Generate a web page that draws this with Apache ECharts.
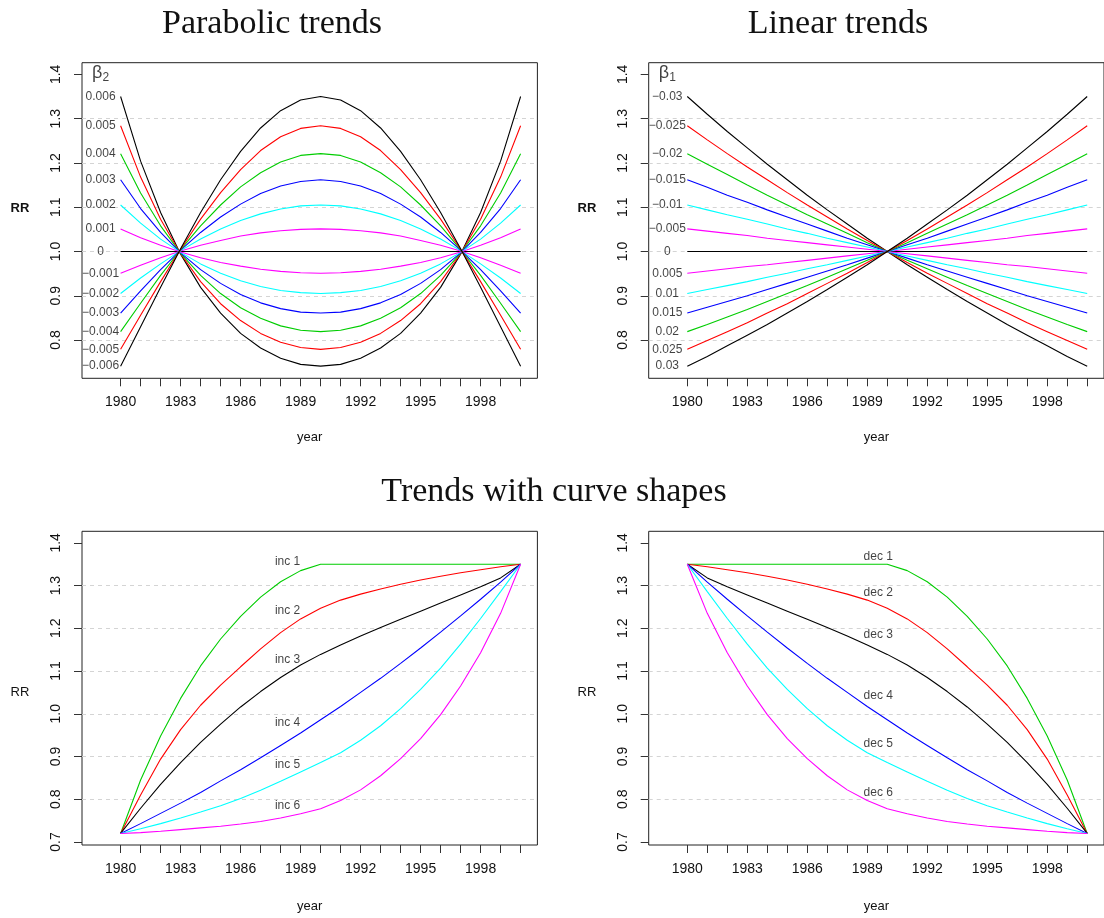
<!DOCTYPE html>
<html>
<head>
<meta charset="utf-8">
<title>RR trends</title>
<script src="https://cdn.jsdelivr.net/npm/echarts@6/dist/echarts.min.js"></script>
<style>
  html, body { margin: 0; padding: 0; background: #fff; }
  #main { width: 1104px; height: 918px; }
</style>
</head>
<body>
<div id="main"></div>
<script>
// x values of every curve
const years = [1980, 1981, 1982, 1983, 1984, 1985, 1986, 1987, 1988, 1989, 1990,
  1991, 1992, 1993, 1994, 1995, 1996, 1997, 1998, 1999, 2000]
const tickYears = years
const labelYears = [1980, 1983, 1986, 1989, 1992, 1995, 1998]
const topTicksRR = [0.8, 0.9, 1.0, 1.1, 1.2, 1.3, 1.4]
const bottomTicksRR = [0.7, 0.8, 0.9, 1.0, 1.1, 1.2, 1.3, 1.4]
// dashed grey reference lines
const gridRR = [0.8, 0.9, 1.0, 1.1, 1.2, 1.3]

// Parabolic trends, one array per beta2 (top to bottom at 1980)
const beta2 = [0.006, 0.005, 0.004, 0.003, 0.002, 0.001, 0, -0.001, -0.002, -0.003, -0.004, -0.005, -0.006]
const par006 = [1.350, 1.204, 1.088, 0.994, 0.919, 0.861, 0.815, 0.782, 0.759, 0.745, 0.741, 0.745, 0.759, 0.782, 0.815, 0.861, 0.919, 0.994, 1.088, 1.204, 1.350]
const par005 = [1.284, 1.168, 1.073, 0.995, 0.932, 0.882, 0.844, 0.815, 0.795, 0.783, 0.779, 0.783, 0.795, 0.815, 0.844, 0.882, 0.932, 0.995, 1.073, 1.168, 1.284]
const par004 = [1.221, 1.132, 1.058, 0.996, 0.946, 0.905, 0.873, 0.849, 0.832, 0.822, 0.819, 0.822, 0.832, 0.849, 0.873, 0.905, 0.946, 0.996, 1.058, 1.132, 1.221]
const par003 = [1.162, 1.097, 1.043, 0.997, 0.959, 0.928, 0.903, 0.884, 0.871, 0.863, 0.861, 0.863, 0.871, 0.884, 0.903, 0.928, 0.959, 0.997, 1.043, 1.097, 1.162]
const par002 = [1.105, 1.064, 1.028, 0.998, 0.972, 0.951, 0.934, 0.921, 0.912, 0.907, 0.905, 0.907, 0.912, 0.921, 0.934, 0.951, 0.972, 0.998, 1.028, 1.064, 1.105]
const par001 = [1.051, 1.031, 1.014, 0.999, 0.986, 0.975, 0.967, 0.960, 0.955, 0.952, 0.951, 0.952, 0.955, 0.960, 0.967, 0.975, 0.986, 0.999, 1.014, 1.031, 1.051]
const par000 = [1, 1, 1, 1, 1, 1, 1, 1, 1, 1, 1, 1, 1, 1, 1, 1, 1, 1, 1, 1, 1]
const parM001 = [0.951, 0.969, 0.986, 1.001, 1.014, 1.025, 1.035, 1.042, 1.047, 1.050, 1.051, 1.050, 1.047, 1.042, 1.035, 1.025, 1.014, 1.001, 0.986, 0.969, 0.951]
const parM002 = [0.905, 0.940, 0.972, 1.002, 1.028, 1.051, 1.070, 1.085, 1.096, 1.103, 1.105, 1.103, 1.096, 1.085, 1.070, 1.051, 1.028, 1.002, 0.972, 0.940, 0.905]
const parM003 = [0.861, 0.911, 0.959, 1.003, 1.043, 1.078, 1.107, 1.131, 1.148, 1.158, 1.162, 1.158, 1.148, 1.131, 1.107, 1.078, 1.043, 1.003, 0.959, 0.911, 0.861]
const parM004 = [0.819, 0.883, 0.946, 1.004, 1.058, 1.105, 1.146, 1.178, 1.202, 1.217, 1.221, 1.217, 1.202, 1.178, 1.146, 1.105, 1.058, 1.004, 0.946, 0.883, 0.819]
const parM005 = [0.779, 0.856, 0.932, 1.005, 1.073, 1.133, 1.185, 1.228, 1.259, 1.278, 1.284, 1.278, 1.259, 1.228, 1.185, 1.133, 1.073, 1.005, 0.932, 0.856, 0.779]
const parM006 = [0.741, 0.830, 0.919, 1.006, 1.088, 1.162, 1.226, 1.279, 1.318, 1.342, 1.350, 1.342, 1.318, 1.279, 1.226, 1.162, 1.088, 1.006, 0.919, 0.830, 0.741]

// Linear trends, one array per beta1
const beta1 = [-0.03, -0.025, -0.02, -0.015, -0.01, -0.005, 0, 0.005, 0.01, 0.015, 0.02, 0.025, 0.03]
const linM030 = [1.350, 1.310, 1.271, 1.234, 1.197, 1.162, 1.127, 1.094, 1.062, 1.030, 1.000, 0.970, 0.942, 0.914, 0.887, 0.861, 0.835, 0.811, 0.787, 0.763, 0.741]
const linM025 = [1.284, 1.252, 1.221, 1.191, 1.162, 1.133, 1.105, 1.078, 1.051, 1.025, 1.000, 0.975, 0.951, 0.928, 0.905, 0.882, 0.861, 0.839, 0.819, 0.799, 0.779]
const linM020 = [1.221, 1.197, 1.174, 1.150, 1.127, 1.105, 1.083, 1.062, 1.041, 1.020, 1.000, 0.980, 0.961, 0.942, 0.923, 0.905, 0.887, 0.869, 0.852, 0.835, 0.819]
const linM015 = [1.162, 1.145, 1.127, 1.111, 1.094, 1.078, 1.062, 1.046, 1.030, 1.015, 1.000, 0.985, 0.970, 0.956, 0.942, 0.928, 0.914, 0.900, 0.887, 0.874, 0.861]
const linM010 = [1.105, 1.094, 1.083, 1.073, 1.062, 1.051, 1.041, 1.030, 1.020, 1.010, 1.000, 0.990, 0.980, 0.970, 0.961, 0.951, 0.942, 0.932, 0.923, 0.914, 0.905]
const linM005 = [1.051, 1.046, 1.041, 1.036, 1.030, 1.025, 1.020, 1.015, 1.010, 1.005, 1.000, 0.995, 0.990, 0.985, 0.980, 0.975, 0.970, 0.966, 0.961, 0.956, 0.951]
const lin000 = [1, 1, 1, 1, 1, 1, 1, 1, 1, 1, 1, 1, 1, 1, 1, 1, 1, 1, 1, 1, 1]
const lin005 = [0.951, 0.956, 0.961, 0.966, 0.970, 0.975, 0.980, 0.985, 0.990, 0.995, 1.000, 1.005, 1.010, 1.015, 1.020, 1.025, 1.030, 1.036, 1.041, 1.046, 1.051]
const lin010 = [0.905, 0.914, 0.923, 0.932, 0.942, 0.951, 0.961, 0.970, 0.980, 0.990, 1.000, 1.010, 1.020, 1.030, 1.041, 1.051, 1.062, 1.073, 1.083, 1.094, 1.105]
const lin015 = [0.861, 0.874, 0.887, 0.900, 0.914, 0.928, 0.942, 0.956, 0.970, 0.985, 1.000, 1.015, 1.030, 1.046, 1.062, 1.078, 1.094, 1.111, 1.127, 1.145, 1.162]
const lin020 = [0.819, 0.835, 0.852, 0.869, 0.887, 0.905, 0.923, 0.942, 0.961, 0.980, 1.000, 1.020, 1.041, 1.062, 1.083, 1.105, 1.127, 1.150, 1.174, 1.197, 1.221]
const lin025 = [0.779, 0.799, 0.819, 0.839, 0.861, 0.882, 0.905, 0.928, 0.951, 0.975, 1.000, 1.025, 1.051, 1.078, 1.105, 1.133, 1.162, 1.191, 1.221, 1.252, 1.284]
const lin030 = [0.741, 0.763, 0.787, 0.811, 0.835, 0.861, 0.887, 0.914, 0.942, 0.970, 1.000, 1.030, 1.062, 1.094, 1.127, 1.162, 1.197, 1.234, 1.271, 1.310, 1.350]

// colours of the 13 beta curves, top to bottom
const betaColors = ['#000000', '#FF0000', '#00CD00', '#0000FF', '#00FFFF', '#FF00FF', '#000000',
  '#FF00FF', '#00FFFF', '#0000FF', '#00CD00', '#FF0000', '#000000']

// Trends with curve shapes
const inc1 = [0.720, 0.845, 0.948, 1.036, 1.112, 1.175, 1.228, 1.273, 1.309, 1.335, 1.350, 1.350, 1.350, 1.350, 1.350, 1.350, 1.350, 1.350, 1.350, 1.350, 1.350]
const inc2 = [0.720, 0.810, 0.894, 0.963, 1.020, 1.067, 1.110, 1.152, 1.190, 1.222, 1.247, 1.266, 1.280, 1.292, 1.303, 1.313, 1.322, 1.330, 1.337, 1.344, 1.350]
const inc3 = [0.720, 0.779, 0.835, 0.886, 0.933, 0.976, 1.016, 1.052, 1.085, 1.114, 1.139, 1.161, 1.182, 1.202, 1.221, 1.240, 1.259, 1.278, 1.297, 1.318, 1.350]
const inc4 = [0.720, 0.743, 0.767, 0.791, 0.816, 0.843, 0.869, 0.897, 0.926, 0.955, 0.986, 1.017, 1.050, 1.083, 1.118, 1.154, 1.191, 1.229, 1.268, 1.308, 1.350]
const inc5 = [0.720, 0.731, 0.743, 0.756, 0.770, 0.785, 0.802, 0.821, 0.842, 0.864, 0.886, 0.909, 0.938, 0.972, 1.012, 1.057, 1.107, 1.163, 1.223, 1.286, 1.350]
const inc6 = [0.720, 0.722, 0.725, 0.729, 0.733, 0.737, 0.742, 0.748, 0.756, 0.766, 0.778, 0.797, 0.822, 0.855, 0.895, 0.942, 0.998, 1.065, 1.143, 1.235, 1.350]
const dec1 = [1.350, 1.350, 1.350, 1.350, 1.350, 1.350, 1.350, 1.350, 1.350, 1.350, 1.350, 1.335, 1.309, 1.273, 1.228, 1.175, 1.112, 1.036, 0.948, 0.845, 0.720]
const dec2 = [1.350, 1.344, 1.337, 1.330, 1.322, 1.313, 1.303, 1.292, 1.280, 1.266, 1.247, 1.222, 1.190, 1.152, 1.110, 1.067, 1.020, 0.963, 0.894, 0.810, 0.720]
const dec3 = [1.350, 1.318, 1.297, 1.278, 1.259, 1.240, 1.221, 1.202, 1.182, 1.161, 1.139, 1.114, 1.085, 1.052, 1.016, 0.976, 0.933, 0.886, 0.835, 0.779, 0.720]
const dec4 = [1.350, 1.308, 1.268, 1.229, 1.191, 1.154, 1.118, 1.083, 1.050, 1.017, 0.986, 0.955, 0.926, 0.897, 0.869, 0.843, 0.816, 0.791, 0.767, 0.743, 0.720]
const dec5 = [1.350, 1.286, 1.223, 1.163, 1.107, 1.057, 1.012, 0.972, 0.938, 0.909, 0.886, 0.864, 0.842, 0.821, 0.802, 0.785, 0.770, 0.756, 0.743, 0.731, 0.720]
const dec6 = [1.350, 1.235, 1.143, 1.065, 0.998, 0.942, 0.895, 0.855, 0.822, 0.797, 0.778, 0.766, 0.756, 0.748, 0.742, 0.737, 0.733, 0.729, 0.725, 0.722, 0.720]
const shapeColors = ['#00CD00', '#FF0000', '#000000', '#0000FF', '#00FFFF', '#FF00FF']
const incNames = ['inc 1', 'inc 2', 'inc 3', 'inc 4', 'inc 5', 'inc 6']
const decNames = ['dec 1', 'dec 2', 'dec 3', 'dec 4', 'dec 5', 'dec 6']
// where the curve names are written (year, RR)
const incLabelYear = 1988.35
const incLabelRR = [1.356, 1.242, 1.127, 0.980, 0.880, 0.784]
const decLabelYear = 1989.55
const decLabelRR = [1.368, 1.284, 1.186, 1.043, 0.931, 0.815]
const betaLabelYear = 1979

const parCurves = [par006, par005, par004, par003, par002, par001, par000, parM001, parM002, parM003, parM004, parM005, parM006]
const linCurves = [linM030, linM025, linM020, linM015, linM010, linM005, lin000, lin005, lin010, lin015, lin020, lin025, lin030]
const incCurves = [inc1, inc2, inc3, inc4, inc5, inc6]
const decCurves = [dec1, dec2, dec3, dec4, dec5, dec6]

const SANS = 'Liberation Sans, Arial, sans-serif'
const SERIF = 'Liberation Serif, Times New Roman, serif'
const INK = '#111111'

function fmtBeta(b) {
  return (b < 0 ? '\u2212' : '') + Math.abs(b)
}

function curveSeries(idx, values, color) {
  return {
    type: 'line',
    xAxisIndex: idx,
    yAxisIndex: idx,
    data: values.map((v, i) => [years[i], v]),
    symbol: 'none',
    showSymbol: false,
    lineStyle: { color: color, width: 1.1 },
    itemStyle: { color: color },
    silent: true,
    z: 6,
  }
}

// dashed grid lines, kept under the curves
function gridLineSeries(idx) {
  return {
    type: 'line',
    xAxisIndex: idx,
    yAxisIndex: idx,
    data: [],
    z: 1,
    silent: true,
    markLine: {
      z: 1,
      symbol: 'none',
      silent: true,
      label: { show: false },
      lineStyle: { type: [4, 4], color: '#d4d4d4', width: 1 },
      data: gridRR.map(v => ({ yAxis: v })),
    },
  }
}

// text placed at data coordinates, centred on the point
function textSeries(idx, points, extra) {
  return {
    type: 'scatter',
    xAxisIndex: idx,
    yAxisIndex: idx,
    symbolSize: 1,
    z: 7,
    silent: true,
    itemStyle: { color: 'rgba(0,0,0,0)' },
    label: Object.assign({
      show: true,
      position: 'inside',
      color: INK,
      fontSize: 12,
      fontFamily: SANS,
      formatter: p => p.data.text,
    }, extra || {}),
    data: points,
  }
}

function betaSymbolSeries(idx, sub) {
  return textSeries(idx, [{ value: [betaLabelYear, 1.402], text: '{b|\u03b2}{s|' + sub + '}' }], {
    rich: {
      b: { fontSize: 18, fontFamily: SANS, color: INK, height: 20 },
      s: { fontSize: 12, fontFamily: SANS, color: INK, verticalAlign: 'bottom', lineHeight: 12 },
    },
  })
}

const gridBoxes = [
  { left: 82, top: 62.7, width: 455.4, height: 315.6 },
  { left: 648.7, top: 62.7, width: 455.4, height: 315.6 },
  { left: 82, top: 531.3, width: 455.4, height: 313.7 },
  { left: 648.7, top: 531.3, width: 455.4, height: 313.7 },
]

function xAxisFor(idx, gap) {
  return {
    type: 'value',
    gridIndex: idx,
    min: 1978.07,
    max: 2000.84,
    name: 'year',
    nameLocation: 'middle',
    nameGap: gap,
    nameTextStyle: { fontSize: 13, fontFamily: SANS, color: INK },
    axisLine: { show: false, onZero: false },
    axisTick: { show: true, inside: false, length: 8, customValues: tickYears, lineStyle: { color: '#333', width: 1 } },
    axisLabel: {
      customValues: labelYears,
      margin: 17,
      fontSize: 14,
      fontFamily: SANS,
      color: INK,
      formatter: v => String(v),
    },
    splitLine: { show: false },
  }
}

function yAxisFor(idx, min, max, ticks) {
  return {
    type: 'value',
    gridIndex: idx,
    min: min,
    max: max,
    axisLine: { show: false, onZero: false },
    axisTick: { show: true, inside: false, length: 8, customValues: ticks, lineStyle: { color: '#333', width: 1 } },
    axisLabel: {
      customValues: ticks,
      rotate: 90,
      margin: 19,
      fontSize: 14,
      fontFamily: SANS,
      color: INK,
      formatter: v => v.toFixed(1),
    },
    splitLine: { show: false },
  }
}

let series = []
for (let g = 0; g < 4; g++) series.push(gridLineSeries(g))
parCurves.forEach((c, i) => series.push(curveSeries(0, c, betaColors[i])))
linCurves.forEach((c, i) => series.push(curveSeries(1, c, betaColors[i])))
incCurves.forEach((c, i) => series.push(curveSeries(2, c, shapeColors[i])))
decCurves.forEach((c, i) => series.push(curveSeries(3, c, shapeColors[i])))

// beta labels sit at the start of each curve
series.push(textSeries(0, beta2.map((b, i) => ({ value: [betaLabelYear, parCurves[i][0]], text: fmtBeta(b) }))))
series.push(textSeries(1, beta1.map((b, i) => ({ value: [betaLabelYear, linCurves[i][0]], text: fmtBeta(b) }))))
series.push(betaSymbolSeries(0, '2'))
series.push(betaSymbolSeries(1, '1'))
series.push(textSeries(2, incNames.map((n, i) => ({ value: [incLabelYear, incLabelRR[i]], text: n }))))
series.push(textSeries(3, decNames.map((n, i) => ({ value: [decLabelYear, decLabelRR[i]], text: n }))))

function freeText(text, x, y, font) {
  return {
    type: 'text',
    x: x,
    y: y,
    silent: true,
    style: Object.assign({
      text: text,
      fill: INK,
      align: 'center',
      verticalAlign: 'middle',
      textAlign: 'center',
      textVerticalAlign: 'middle',
    }, font),
  }
}

const titleFont = { fontSize: 34, fontFamily: SERIF, fontWeight: 'normal' }

let myChart = echarts.init(document.getElementById('main'), null, { renderer: 'canvas' })
let option = {
  animation: false,
  backgroundColor: '#ffffff',
  grid: gridBoxes.map(b => Object.assign({
    show: true,
    borderColor: '#222',
    borderWidth: 1,
    backgroundColor: 'rgba(0,0,0,0)',
    containLabel: false,
  }, b)),
  xAxis: [xAxisFor(0, 53), xAxisFor(1, 53), xAxisFor(2, 55), xAxisFor(3, 55)],
  yAxis: [
    yAxisFor(0, 0.7136, 1.4264, topTicksRR),
    yAxisFor(1, 0.7136, 1.4264, topTicksRR),
    yAxisFor(2, 0.693, 1.427, bottomTicksRR),
    yAxisFor(3, 0.693, 1.427, bottomTicksRR),
  ],
  graphic: [
    freeText('Parabolic trends', 272, 24, titleFont),
    freeText('Linear trends', 838, 24, titleFont),
    freeText('Trends with curve shapes', 554, 492, titleFont),
    freeText('RR', 20, 208, { fontSize: 13, fontFamily: SANS, fontWeight: 'bold' }),
    freeText('RR', 587, 208, { fontSize: 13, fontFamily: SANS, fontWeight: 'bold' }),
    freeText('RR', 20, 692, { fontSize: 13, fontFamily: SANS }),
    freeText('RR', 587, 692, { fontSize: 13, fontFamily: SANS }),
  ],
  series: series,
}
myChart.setOption(option)
</script>
</body>
</html>
